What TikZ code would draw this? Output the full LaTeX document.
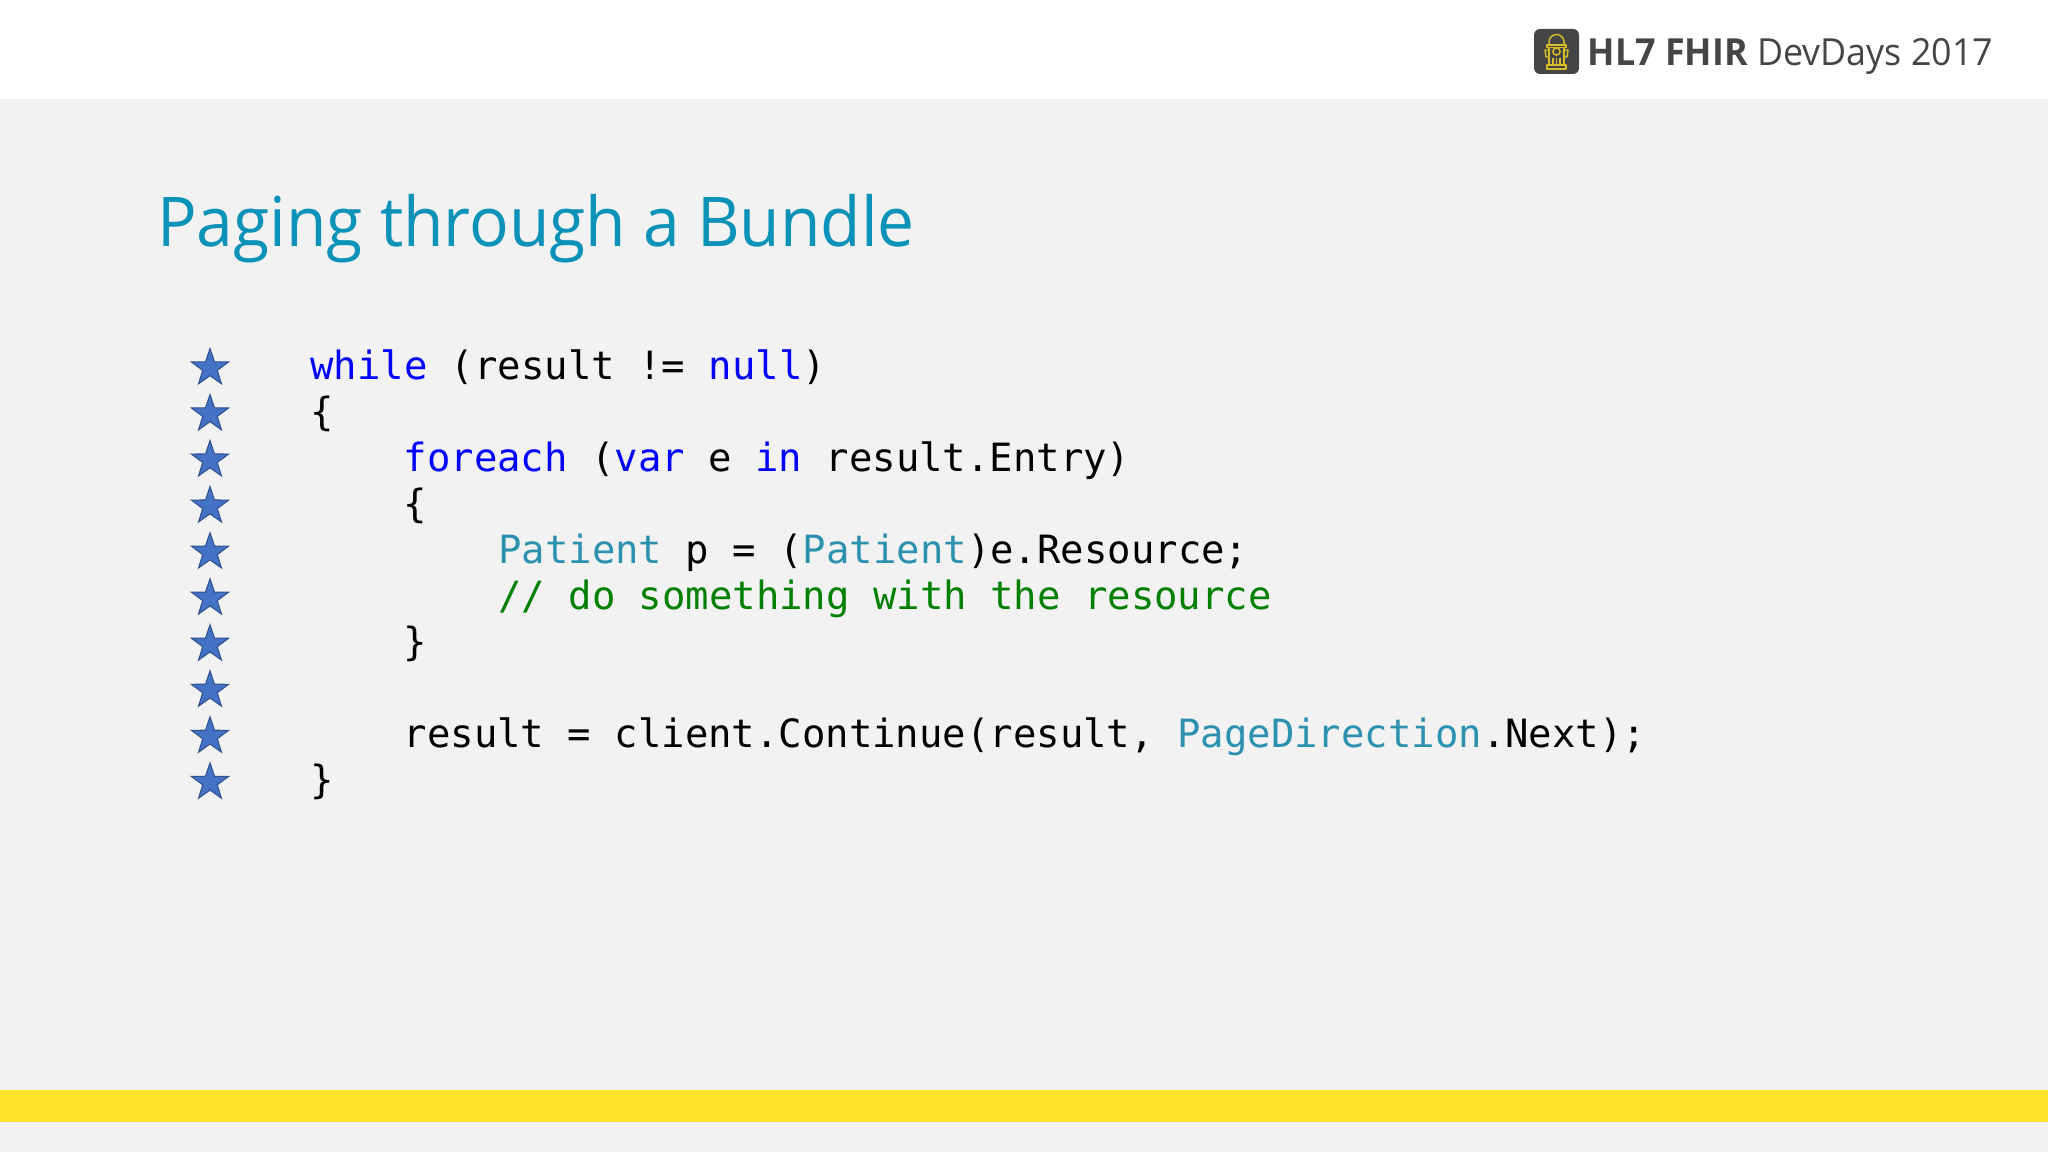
\documentclass[tikz,border=0pt]{standalone}
\usepackage{fontspec}
\usetikzlibrary{shapes.geometric}
\setmainfont{Open Sans}[FakeStretch=0.96]
\newfontfamily\codefont{DejaVu Sans Mono}
\definecolor{pagebg}{HTML}{F2F2F3}
\definecolor{band}{HTML}{FFE32B}
\definecolor{titleteal}{HTML}{0B92B8}
\definecolor{kw}{HTML}{0000FF}
\definecolor{typ}{HTML}{2B91AF}
\definecolor{cmt}{HTML}{008000}
\definecolor{ink}{HTML}{000000}
\definecolor{logogrey}{HTML}{454545}
\definecolor{hyd}{HTML}{D9BE2A}
\definecolor{starfill}{HTML}{4472C4}
\definecolor{starline}{HTML}{2F528F}
\newcommand{\kw}[1]{\textcolor{kw}{#1}}
\newcommand{\typ}[1]{\textcolor{typ}{#1}}
\tikzset{
  x=0.75pt,y=-0.75pt,
  codeline/.style={anchor=base west,inner sep=0pt,text=ink,font=\codefont\fontsize{29.2pt}{32pt}\selectfont},
  starmark/.style={star,star points=5,star point ratio=2.55,minimum size=39*0.75pt,inner sep=0pt,fill=starfill,draw=starline,line width=0.8pt},
  hydline/.style={draw=hyd,line width=1.1pt,line join=round}
}
\begin{document}
\begin{tikzpicture}
\useasboundingbox (0,0) rectangle (2048,1152);
\fill[pagebg] (0,0) rectangle (2048,1152);
\fill[white] (0,0) rectangle (2048,99);
\fill[band] (0,1090) rectangle (2048,1122);
% logo
\fill[logogrey,rounded corners=4.5pt] (1534,29) rectangle (1579,74);
\draw[hydline] (1549,45) -- (1549,42) arc[start angle=180,end angle=0,x radius=7.5,y radius=-7.5] -- (1564,45);
\draw[hydline] (1547,45) rectangle (1566,47.5);
\draw[hydline] (1549,47.5) -- (1549,65) (1564,47.5) -- (1564,65);
\draw[hydline] (1549,50) -- (1545,50) -- (1546,57) -- (1549,57) (1564,50) -- (1568,50) -- (1567,57) -- (1564,57);
\draw[hydline] (1556.5,51.5) circle[radius=3.6];
\draw[hydline] (1553,58) -- (1553,65) (1556.5,58) -- (1556.5,65) (1560,58) -- (1560,65);
\draw[hydline] (1547,65) rectangle (1566,69);
\node[anchor=base west,inner sep=0pt,text=logogrey,font=\fontsize{28pt}{32pt}\selectfont] (logotext) at (1587.5,66) {\textbf{HL7 FHIR} DevDays 2017};
% title
\node[anchor=base west,inner sep=0pt,text=titleteal,font=\fontsize{51.5pt}{60pt}\selectfont] (title) at (157,246) {Paging through a Bundle};
% stars
\foreach \i in {0,...,9} {
  \node[starmark] (star\i) at (210,{368+46.05*\i}) {};
}
% code
\node[codeline] (c0) at (310,379) {\kw{while} (result != \kw{null})};
\node[codeline] (c1) at (310,425) {\{};
\node[codeline] (c2) at (403.5,471) {\kw{foreach} (\kw{var} e \kw{in} result.Entry)};
\node[codeline] (c3) at (403.5,517) {\{};
\node[codeline] (c4) at (498,563) {\typ{Patient} p = (\typ{Patient})e.Resource;};
\node[codeline] (c5) at (498,609) {\textcolor{cmt}{// do something with the resource}};
\node[codeline] (c6) at (403.5,655) {\}};
\node[codeline] (c8) at (403.5,747) {result = client.Continue(result, \typ{PageDirection}.Next);};
\node[codeline] (c9) at (310,793) {\}};
\end{tikzpicture}
\end{document}
